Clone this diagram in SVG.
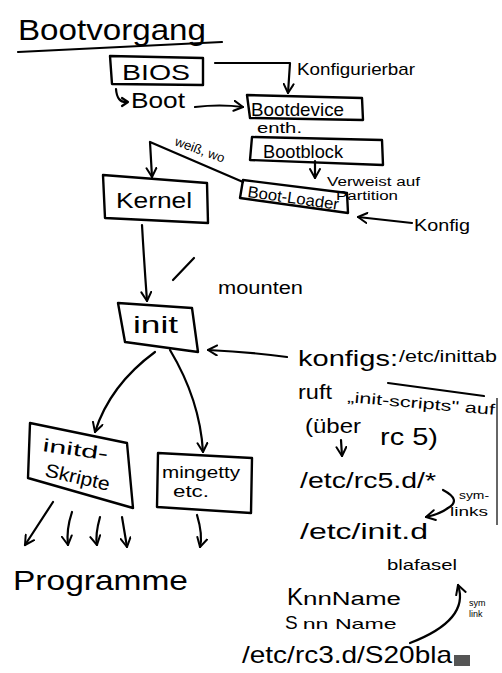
<svg xmlns="http://www.w3.org/2000/svg" width="502" height="673" viewBox="0 0 502 673">
<defs>
<style>
text{font-family:"Liberation Sans","DejaVu Sans",sans-serif;fill:#000}
.box{fill:none;stroke:#000;stroke-width:2.4;stroke-linejoin:round}
.ln{fill:none;stroke:#000;stroke-width:2.2;stroke-linecap:round;stroke-linejoin:round}
.arr{fill:none;stroke:#000;stroke-width:2.2;stroke-linecap:round;stroke-linejoin:round;marker-end:url(#ah)}
</style>
<marker id="ah" viewBox="0 0 12 12" refX="10" refY="6" markerWidth="12" markerHeight="12" markerUnits="userSpaceOnUse" orient="auto">
<path d="M1,1 L10,6 L1,11" fill="none" stroke="#000" stroke-width="2" stroke-linecap="round" stroke-linejoin="round"/>
</marker>
</defs>
<rect width="502" height="673" fill="#fff"/>

<g id="title">
<text x="18" y="40" font-size="30" textLength="188" lengthAdjust="spacingAndGlyphs">Bootvorgang</text>
<path class="ln" d="M18,52 L222,42" stroke-width="2.6"/>
</g>

<g id="bios">
<polygon class="box" points="110,56 203,58 203,85 112,84"/>
<text x="122" y="80" font-size="22" textLength="68" lengthAdjust="spacingAndGlyphs">BIOS</text>
</g>

<g id="boot">
<path class="ln" d="M116,89 Q117,103 127,102"/>
<path class="ln" d="M122,98 L128,102 L122,106"/>
<text x="131" y="108" font-size="22" textLength="54" lengthAdjust="spacingAndGlyphs">Boot</text>
</g>

<g id="bootdevice">
<polygon class="box" points="247,95 362,98 363,120 250,118"/>
<text x="251" y="116" font-size="19" textLength="93" lengthAdjust="spacingAndGlyphs">Bootdevice</text>
</g>

<g id="bootblock">
<polygon class="box" points="252,137 382,140 383,165 250,160"/>
<text x="263" y="158" font-size="19" textLength="80" lengthAdjust="spacingAndGlyphs">Bootblock</text>
</g>

<g id="bootloader">
<polygon class="box" points="243,180 347,193 348,213 240,198"/>
<text x="247" y="197" font-size="16" textLength="92" lengthAdjust="spacingAndGlyphs" transform="rotate(8 247 197)">Boot-Loader</text>
</g>

<g id="kernel">
<polygon class="box" points="103,175 207,183 208,223 105,218"/>
<text x="116" y="208" font-size="22" textLength="76" lengthAdjust="spacingAndGlyphs">Kernel</text>
</g>

<g id="init">
<polygon class="box" points="118,303 192,308 198,352 125,342"/>
<text x="133" y="333" font-size="24" textLength="45" lengthAdjust="spacingAndGlyphs">init</text>
</g>

<g id="initd">
<polygon class="box" points="30,423 127,443 133,508 28,478"/>
<text x="42" y="451" font-size="18" textLength="66" lengthAdjust="spacingAndGlyphs" transform="rotate(8 42 451)">initd-</text>
<text x="44" y="476" font-size="19" textLength="66" lengthAdjust="spacingAndGlyphs" transform="rotate(13 44 476)">Skripte</text>
</g>

<g id="mingetty">
<polygon class="box" points="158,453 252,458 251,513 157,507"/>
<text x="162" y="478" font-size="17" textLength="78" lengthAdjust="spacingAndGlyphs">mingetty</text>
<text x="173" y="497" font-size="16" textLength="36" lengthAdjust="spacingAndGlyphs">etc.</text>
</g>

<g id="programme">
<text x="13" y="590" font-size="28" textLength="175" lengthAdjust="spacingAndGlyphs">Programme</text>
</g>

<g id="notes">
<text x="297" y="75" font-size="17" textLength="118" lengthAdjust="spacingAndGlyphs">Konfigurierbar</text>
<text x="257" y="133" font-size="14" textLength="45" lengthAdjust="spacingAndGlyphs">enth.</text>
<text x="327" y="186" font-size="12" textLength="93" lengthAdjust="spacingAndGlyphs">Verweist auf</text>
<text x="336" y="200" font-size="12" textLength="62" lengthAdjust="spacingAndGlyphs">Partition</text>
<text x="414" y="231" font-size="16" textLength="56" lengthAdjust="spacingAndGlyphs">Konfig</text>
<text x="174" y="145" font-size="13" textLength="52" lengthAdjust="spacingAndGlyphs" transform="rotate(20 174 145)">weiß, wo</text>
<path class="ln" d="M173,280 L194,258"/>
<text x="218" y="294" font-size="18" textLength="85" lengthAdjust="spacingAndGlyphs">mounten</text>
<text x="298" y="366" font-size="22" textLength="100" lengthAdjust="spacingAndGlyphs">konfigs:</text>
<text x="399" y="362" font-size="17" textLength="98" lengthAdjust="spacingAndGlyphs">/etc/inittab</text>
<path class="ln" d="M388,383 L484,396"/>
<text x="298" y="399" font-size="20" textLength="34" lengthAdjust="spacingAndGlyphs">ruft</text>
<text x="347" y="402" font-size="15" textLength="148" lengthAdjust="spacingAndGlyphs" transform="rotate(5 347 402)">„init-scripts" auf</text>
<text x="305" y="433" font-size="20" textLength="56" lengthAdjust="spacingAndGlyphs">(über</text>
<text x="380" y="445" font-size="24" textLength="58" lengthAdjust="spacingAndGlyphs">rc 5)</text>
<text x="300" y="488" font-size="22" textLength="136" lengthAdjust="spacingAndGlyphs">/etc/rc5.d/*</text>
<text x="459" y="499" font-size="11" textLength="30" lengthAdjust="spacingAndGlyphs">sym-</text>
<text x="450" y="516" font-size="13" textLength="38" lengthAdjust="spacingAndGlyphs">links</text>
<text x="300" y="539" font-size="22" textLength="128" lengthAdjust="spacingAndGlyphs">/etc/init.d</text>
<text x="387" y="570" font-size="15" textLength="70" lengthAdjust="spacingAndGlyphs">blafasel</text>
<text x="287" y="605" font-size="24">K<tspan font-size="18" textLength="98" lengthAdjust="spacingAndGlyphs">nnName</tspan></text>
<text x="285" y="629" font-size="19">S<tspan font-size="15" dx="5" textLength="94" lengthAdjust="spacingAndGlyphs">nn Name</tspan></text>
<text x="242" y="663" font-size="24" textLength="210" lengthAdjust="spacingAndGlyphs">/etc/rc3.d/S20bla</text>
<rect x="454" y="655" width="16" height="11" fill="#555"/>
<text x="469" y="606" font-size="9">sym</text>
<text x="469" y="617" font-size="9">link</text>
<path d="M497,398 L497,525" stroke="#333" stroke-width="1.5"/>
</g>

<g id="connectors">
<path class="arr" d="M215,63 L290,63 L288,93"/>
<path class="arr" d="M195,107 Q220,104 243,107"/>
<path class="arr" d="M315,161 L315,178"/>
<path class="arr" d="M412,223 L358,217"/>
<path class="arr" d="M243,182 L150,142 L152,177"/>
<path class="arr" d="M142,225 Q144,260 147,301"/>
<path class="arr" d="M287,357 Q250,352 208,350"/>
<path class="arr" d="M155,352 Q110,385 95,432"/>
<path class="arr" d="M170,350 Q200,400 203,452"/>
<path class="arr" d="M341,440 L342,456"/>
<path class="arr" d="M443,490 Q462,500 448,508 Q440,514 426,517"/>
<path class="arr" d="M410,643 Q470,620 458,585"/>
<path class="arr" d="M53,502 L25,545"/>
<path class="arr" d="M72,512 Q66,530 68,545"/>
<path class="arr" d="M100,517 Q95,535 97,545"/>
<path class="arr" d="M122,517 L127,547"/>
<path class="arr" d="M197,515 Q203,535 200,547"/>
</g>
</svg>
